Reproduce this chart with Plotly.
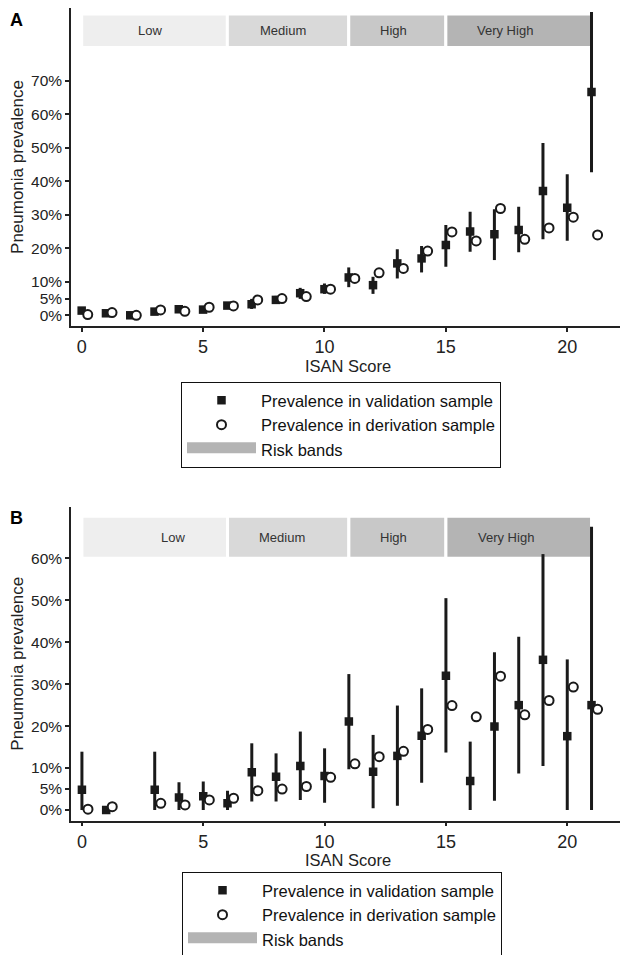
import numpy as np
import plotly.graph_objects as go

# ---------------- data ----------------
scores = list(range(22))

# Panel A: validation prevalence (%) with 95% CI
val_a = [1.4, 0.6, 0.0, 1.1, 1.8, 1.7, 2.9, 3.3, 4.6, 6.6, 7.8, 11.3, 9.0, 15.5,
         17.0, 21.0, 25.0, 24.2, 25.5, 37.1, 32.1, 66.7]
val_a_low = [0.9, 0.2, 0.0, 0.6, 1.2, 1.1, 2.1, 1.9, 3.5, 4.9, 6.4, 8.4, 6.4, 11.0,
             12.8, 14.5, 19.0, 16.5, 18.8, 22.7, 22.3, 42.7]
val_a_high = [2.0, 1.2, 0.5, 1.7, 2.5, 2.4, 3.8, 4.9, 5.8, 8.2, 9.5, 14.3, 11.5, 19.7,
              20.7, 27.0, 30.9, 31.7, 32.4, 51.5, 42.1, 90.6]

# Derivation sample prevalence (%)
derivation = [0.2, 0.8, 0.0, 1.6, 1.2, 2.4, 2.8, 4.6, 5.0, 5.6, 7.8, 11.0, 12.7, 14.0,
              19.2, 24.9, 22.2, 31.9, 22.7, 26.1, 29.3, 24.0]

# Panel B: validation prevalence (%) with 95% CI (no patients with score 2)
val_b = [4.8, 0.0, None, 4.8, 3.0, 3.3, 1.6, 9.0, 7.9, 10.5, 8.1, 21.1, 9.1, 12.9,
         17.7, 32.0, 6.9, 19.9, 25.0, 35.8, 17.6, 25.0]
val_b_low = [0.0, 0.0, None, 0.0, 0.0, 0.0, 0.0, 2.0, 2.0, 2.4, 1.7, 9.7, 0.4, 1.0,
             6.5, 13.7, 0.0, 2.2, 8.7, 10.5, 0.0, 0.0]
val_b_high = [13.9, 0.0, None, 13.9, 6.6, 6.8, 4.6, 15.9, 13.5, 18.7, 14.7, 32.4, 17.9, 24.9,
              29.0, 50.5, 16.3, 37.6, 41.3, 61.0, 35.9, 67.5]
b_missing_scores = [2]

# Risk bands
band_names = ["Low", "Medium", "High", "Very High"]
band_start = [0, 6, 11, 15]
band_end = [6, 11, 15, 21]

x_ticks = [0, 5, 10, 15, 20]
y_ticks_a = [0, 5, 10, 20, 30, 40, 50, 60, 70]
y_ticks_b = [0, 5, 10, 20, 30, 40, 50, 60]

# ---------------- style ----------------
FONT = "Liberation Sans, Arial, sans-serif"
INK = "#1a1a1a"
band_colors = ["#eeeeee", "#d9d9d9", "#c8c8c8", "#b4b4b4"]
DERIV_OFFSET = 0.25
band_y_a = (80, 90)
band_y_b = (60, 70)
label_pos_a = [2.8, 8.28, 12.85, 17.45]
label_pos_b = [3.75, 8.26, 12.84, 17.46]
W, H = 628.0, 955.0
PAGE_OFF = 8.0  # default page body margin


def px(v):
    return (v - PAGE_OFF) / W


def py(v):
    return 1 - (v - PAGE_OFF) / H


x = np.array(scores, dtype=float)


def err(vals, lo, hi):
    up = [None if v is None else h - v for v, h in zip(vals, hi)]
    dn = [None if v is None else v - l for v, l in zip(vals, lo)]
    return up, dn


fig = go.Figure()

panels = [
    dict(xa="x", ya="y", leg="legend", val=val_a, lo=val_a_low, hi=val_a_high,
         der=derivation),
    dict(xa="x2", ya="y2", leg="legend2", val=val_b, lo=val_b_low, hi=val_b_high,
         der=[None if s in b_missing_scores else d for s, d in zip(scores, derivation)]),
]

for p in panels:
    up, dn = err(p["val"], p["lo"], p["hi"])
    fig.add_trace(go.Scatter(
        x=x, y=p["val"], mode="markers", name="Prevalence in validation sample",
        xaxis=p["xa"], yaxis=p["ya"], legend=p["leg"],
        marker=dict(symbol="square", size=8.5, color=INK),
        error_y=dict(type="data", symmetric=False, array=up, arrayminus=dn,
                     thickness=3, width=0, color=INK),
    ))
    fig.add_trace(go.Scatter(
        x=x + DERIV_OFFSET, y=p["der"], mode="markers",
        name="Prevalence in derivation sample",
        xaxis=p["xa"], yaxis=p["ya"], legend=p["leg"],
        marker=dict(symbol="circle", size=9, color="white",
                    line=dict(color=INK, width=2)),
    ))
    fig.add_trace(go.Scatter(
        x=[None], y=[None], mode="lines", name="Risk bands",
        xaxis=p["xa"], yaxis=p["ya"], legend=p["leg"],
        fill="toself", fillcolor="#b4b4b4",
        line=dict(color="#b4b4b4", width=14),
    ))

shapes = []
annotations = []
for xa, ya, (y0, y1), lpos in [("x", "y", band_y_a, label_pos_a),
                                ("x2", "y2", band_y_b, label_pos_b)]:
    for name, s, e, c, lp in zip(band_names, band_start, band_end, band_colors, lpos):
        shapes.append(dict(type="rect", xref=xa, yref=ya, x0=s, x1=e, y0=y0, y1=y1,
                           fillcolor=c, line=dict(color="white", width=3),
                           layer="below"))
        annotations.append(dict(xref=xa, yref=ya, x=lp, y=(y0 + y1) / 2, text=name,
                                showarrow=False, font=dict(size=13, color="#333333",
                                                           family=FONT)))

x_dom = [px(71), px(625.5)]
x_mid = (x_dom[0] + x_dom[1]) / 2

annotations.append(dict(xref="paper", yref="paper", x=0.0, y=1.0,
                        xanchor="left", yanchor="top", text="<b>A</b>",
                        showarrow=False,
                        font=dict(size=18, color="#000", family=FONT)))
annotations.append(dict(xref="paper", yref="paper", x=0.0, y=py(518),
                        xanchor="left", yanchor="middle", text="<b>B</b>",
                        showarrow=False,
                        font=dict(size=18, color="#000", family=FONT)))

for ycen in [366, 860]:
    annotations.append(dict(xref="paper", yref="paper", x=x_mid, y=py(ycen),
                            xanchor="center", yanchor="middle", text="ISAN Score",
                            showarrow=False,
                            font=dict(size=16.5, color="#222", family=FONT)))

axis_common = dict(showline=True, linecolor="#222", linewidth=1.5, ticks="outside",
                   ticklen=4, tickwidth=1.5, tickcolor="#222", showgrid=False,
                   zeroline=False, automargin=False)

legend_common = dict(xanchor="left", yanchor="top", bordercolor="#111", borderwidth=1,
                     bgcolor="white", font=dict(size=16.5, color="#111"), itemwidth=69)

fig.update_layout(
    width=628, height=955,
    margin=dict(l=0, r=0, t=0, b=0, autoexpand=False),
    paper_bgcolor="white", plot_bgcolor="white",
    font=dict(family=FONT, color="#222"),
    shapes=shapes, annotations=annotations,
    xaxis=dict(domain=x_dom, range=[-0.44, 22.4], anchor="y", tickvals=x_ticks,
               tickfont=dict(size=18), **axis_common),
    yaxis=dict(domain=[py(326), py(8)], range=[-3.2, 91.8], anchor="x",
               tickvals=y_ticks_a, ticktext=[f"{t}%" for t in y_ticks_a],
               tickfont=dict(size=15.5),
               title=dict(text="Pneumonia prevalence", font=dict(size=17), standoff=14),
               **axis_common),
    xaxis2=dict(domain=x_dom, range=[-0.45, 22.4], anchor="y2", tickvals=x_ticks,
                tickfont=dict(size=18), **axis_common),
    yaxis2=dict(domain=[py(820.7), py(506.7)], range=[-2.55, 72.3],
                anchor="x2", tickvals=y_ticks_b, ticktext=[f"{t}%" for t in y_ticks_b],
                tickfont=dict(size=15.5),
                title=dict(text="Pneumonia prevalence", font=dict(size=17), standoff=14),
                **axis_common),
    legend=dict(x=px(181), y=py(382), **legend_common),
    legend2=dict(x=px(182), y=py(872), **legend_common),
)

fig.write_html("out.html")
